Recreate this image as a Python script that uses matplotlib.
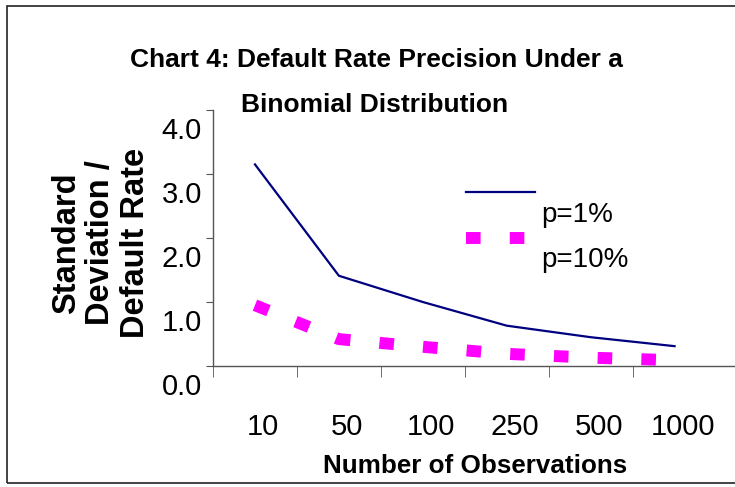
import matplotlib
matplotlib.use("Agg")
import matplotlib.pyplot as plt
import matplotlib.transforms as mtransforms
from matplotlib.patches import Rectangle
from matplotlib.ticker import FixedLocator, NullFormatter

plt.rcParams['font.family'] = ['Liberation Sans', 'DejaVu Sans']
plt.rcParams['lines.scale_dashes'] = False

# данные
observations = ["10", "50", "100", "250", "500", "1000"]
p1 = [3.15, 1.41, 1.00, 0.63, 0.45, 0.31]
p10 = [0.95, 0.42, 0.30, 0.19, 0.13, 0.09]
y_ticks = [0, 1, 2, 3, 4]

fig = plt.figure(figsize=(7.35, 4.87), dpi=100)
fig.patch.set_facecolor("white")

# рамка вокруг рисунка
fig.patches.append(Rectangle((7 / 735, 1 - 483 / 487), 1.0, (483 - 6) / 487,
                             transform=fig.transFigure, fill=False,
                             edgecolor="#222222", linewidth=1.2))

ax = fig.add_axes([213 / 735, 1 - 366 / 487, 1 - 213 / 735, 256 / 487])
x = list(range(len(observations)))

ax.plot(x, p1, color="#000080", linewidth=1.6, label="p=1%")
ax.plot(x, p10, color="#ff00ff", linewidth=8.6, linestyle=(0, (10.5, 21)),
        dash_capstyle="butt", label="p=10%")

ax.set_xlim(-0.5, 5.72)
ax.set_ylim(0, 4)

for s in ["top", "right"]:
    ax.spines[s].set_visible(False)
for s in ["left", "bottom"]:
    ax.spines[s].set_color("#555555")
    ax.spines[s].set_linewidth(1.0)

# ось X: подписи в центрах категорий, засечки на границах
ax.set_xticks(x)
ax.set_xticklabels(observations, fontsize=21)
ax.tick_params(axis="x", which="major", length=0, pad=34)
ax.xaxis.set_minor_locator(FixedLocator([i - 0.5 for i in x]))
ax.xaxis.set_minor_formatter(NullFormatter())
ax.tick_params(axis="x", which="minor", length=8, color="#555555")
shift_x = mtransforms.ScaledTranslation(8 / 100, 0, fig.dpi_scale_trans)
for lab in ax.get_xticklabels():
    lab.set_transform(lab.get_transform() + shift_x)

# ось Y
ax.set_yticks(y_ticks)
ax.set_yticklabels(["%.1f" % v for v in y_ticks], fontsize=21)
ax.tick_params(axis="y", length=5, color="#555555", pad=3)
shift_y = mtransforms.ScaledTranslation(0, -18 / 100, fig.dpi_scale_trans)
for lab in ax.get_yticklabels():
    lab.set_transform(lab.get_transform() + shift_y)

ax.set_xlabel("Number of Observations", fontsize=18.7, fontweight="bold")
ax.xaxis.set_label_coords(475 / 735, 1 - 454 / 487, transform=fig.transFigure)
ax.set_ylabel("Standard\nDeviation /\nDefault Rate", fontsize=23.5,
              fontweight="bold", linespacing=1.15)
ax.yaxis.set_label_coords(151 / 735, 1 - 243 / 487, transform=fig.transFigure)

fig.text(376 / 735, 1 - 60 / 487, "Chart 4: Default Rate Precision Under a",
         ha="center", va="center", fontsize=19, fontweight="bold")
fig.text(375 / 735, 1 - 105 / 487, "Binomial Distribution",
         ha="center", va="center", fontsize=19, fontweight="bold")

leg = ax.legend(loc="upper left", bbox_to_anchor=(466 / 735, 1 - 182 / 487),
                bbox_transform=fig.transFigure, frameon=False, fontsize=20,
                handlelength=2.5, handletextpad=0.2, labelspacing=0.7,
                borderpad=0, borderaxespad=0)
for t in leg.get_texts():
    t.set_y(-20)

fig.savefig("out.png", dpi=100)
